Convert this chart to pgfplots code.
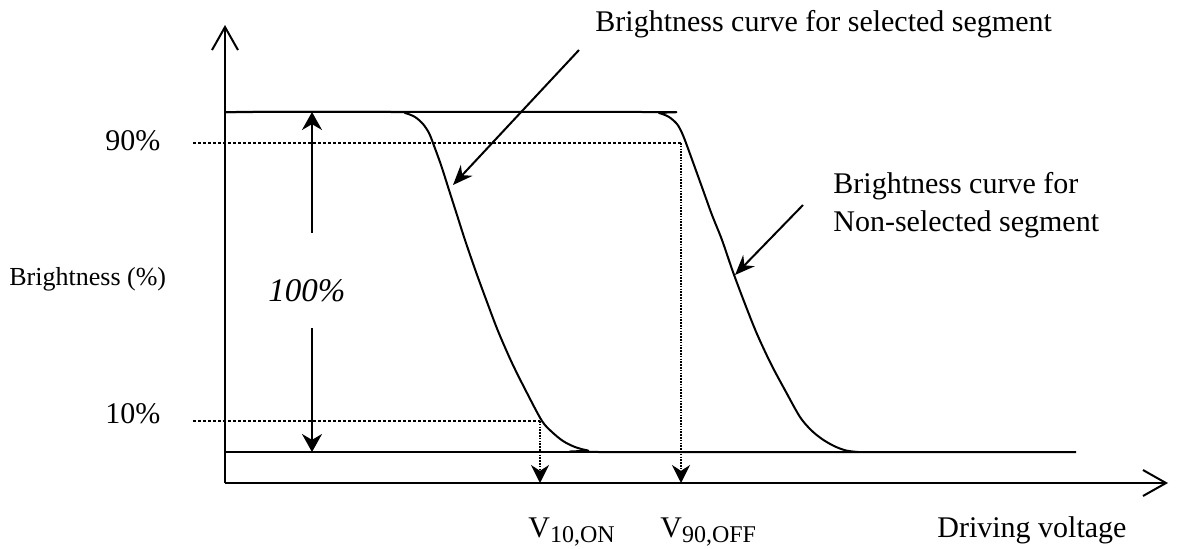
\documentclass[border=0pt]{standalone}
\usepackage{fontspec}
\setmainfont{Liberation Serif}
\usepackage{pgfplots}
\pgfplotsset{compat=1.18}
\usetikzlibrary{arrows.meta}
\begin{document}
\begin{tikzpicture}
\begin{axis}[
  x=0.5pt, y=0.5pt, y dir=reverse,
  xmin=0, xmax=1198, ymin=0, ymax=548,
  hide axis, clip=false,
  every axis plot/.append style={line join=round, line cap=butt},
]
\coordinate (SW) at (rel axis cs:0,0);
\coordinate (NE) at (rel axis cs:1,1);
% axes
\addplot[black, line width=1pt, -{Straight Barb[length=11.5pt,width=13pt]}] coordinates {(225,483) (225,25)};
\addplot[black, line width=1pt, -{Straight Barb[length=11.5pt,width=13pt]}] coordinates {(225,483) (1168,483)};
% bottom short line
\addplot[black, line width=0.8pt] coordinates {(225,452) (576,452)};
% curve for selected segment
\addplot[black, line width=1pt, smooth, tension=0.5] coordinates {
(225,112) (393,112) (405,113) (415,117) (423,124) (429,133) (433,143)
(441,165) (449,190) (457,215) (465,240) (476,272) (487,302) (498,331)
(512,363) (527,393) (542,421) (552,432) (563,441) (575,447) (588,450.5) (603,452) (1076,452)};
% curve for non-selected segment
\addplot[black, line width=1pt, smooth, tension=0.5] coordinates {
(225,112) (647,112) (659,113) (669,117) (677,124) (682,133) (686,143)
(694,165) (703,190) (712,215) (722,240) (733,272) (745,304) (757,334)
(771,364) (786,392) (800,417) (811,430) (822,439) (834,446) (846,450.5) (858,452)};
% dotted guides
\addplot[black, line width=1pt, dash pattern=on 1.5pt off 1pt] coordinates {(193,143) (681,143)};
\addplot[black, line width=1pt, dash pattern=on 1.5pt off 1pt] coordinates {(193,421) (540,421)};
\addplot[black, line width=1pt, dash pattern=on 0.8pt off 0.6pt, -{Stealth[length=9pt,width=9pt]}] coordinates {(681,143) (681,483)};
\addplot[black, line width=1pt, dash pattern=on 0.8pt off 0.6pt, -{Stealth[length=9pt,width=9pt]}] coordinates {(540,421) (540,483)};
% 100% double arrow
\addplot[black, line width=1pt, -{Stealth[length=9pt,width=10pt]}] coordinates {(312,233) (312,112)};
\addplot[black, line width=1pt, -{Stealth[length=9pt,width=10pt]}] coordinates {(312,328) (312,452)};
% pointer arrows
\addplot[black, line width=1pt, -{Stealth[length=10pt,width=8pt]}] coordinates {(579,50) (453,185)};
\addplot[black, line width=1pt, -{Stealth[length=10pt,width=8pt]}] coordinates {(803,205) (735,275)};
% texts
\node[anchor=base west, inner sep=0pt, font=\fontsize{15}{18}\selectfont] at (axis cs:105,150) {90\%};
\node[anchor=base west, inner sep=0pt, font=\fontsize{15}{18}\selectfont] at (axis cs:105,423) {10\%};
\node[anchor=base west, inner sep=0pt, font=\fontsize{13}{16}\selectfont] at (axis cs:9,285) {Brightness (\%)};
\node[anchor=base west, inner sep=0pt, font=\fontsize{16.5}{19}\selectfont\itshape] at (axis cs:268,301) {100\%};
\node[anchor=base west, inner sep=0pt, font=\fontsize{15}{18}\selectfont] at (axis cs:595,31) {Brightness curve for selected segment};
\node[anchor=base west, inner sep=0pt, font=\fontsize{15}{18}\selectfont] at (axis cs:833,193) {Brightness curve for};
\node[anchor=base west, inner sep=0pt, font=\fontsize{15}{18}\selectfont] at (axis cs:833,231) {Non-selected segment};
\node[anchor=base west, inner sep=0pt, font=\fontsize{15}{18}\selectfont] at (axis cs:528,537) {V\raisebox{-2.5pt}{\fontsize{12}{14}\selectfont 10,ON}};
\node[anchor=base west, inner sep=0pt, font=\fontsize{15}{18}\selectfont] at (axis cs:660,537) {V\raisebox{-2.5pt}{\fontsize{12}{14}\selectfont 90,OFF}};
\node[anchor=base west, inner sep=0pt, font=\fontsize{15}{18}\selectfont] at (axis cs:937,537) {Driving voltage};
\end{axis}
\pgfresetboundingbox
\useasboundingbox (SW) rectangle (NE);
\end{tikzpicture}
\end{document}
